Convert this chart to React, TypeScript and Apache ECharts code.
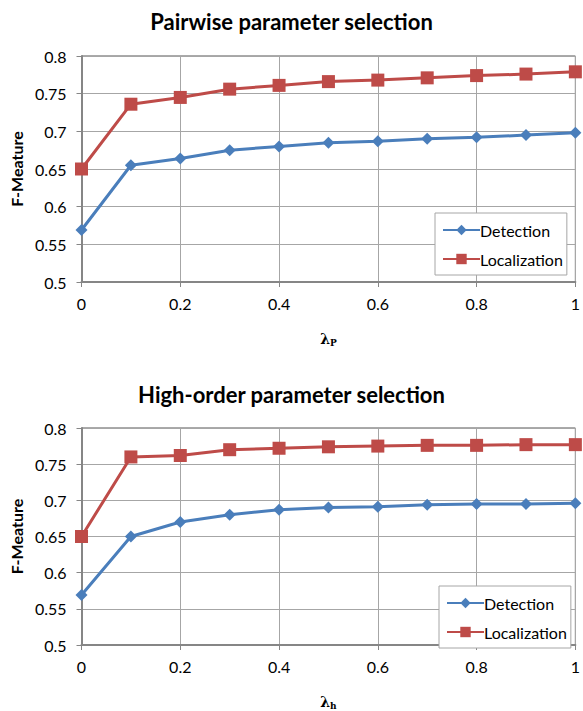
import React, { useEffect, useRef } from "react";
import * as echarts from "echarts";

const lambdaValues = [0, 0.1, 0.2, 0.3, 0.4, 0.5, 0.6, 0.7, 0.8, 0.9, 1];
const pairDetection = [0.569, 0.655, 0.664, 0.675, 0.68, 0.685, 0.687, 0.69, 0.692, 0.695, 0.698];
const pairLocalization = [0.65, 0.736, 0.745, 0.756, 0.761, 0.766, 0.768, 0.771, 0.774, 0.776, 0.779];
const highDetection = [0.569, 0.65, 0.67, 0.68, 0.687, 0.69, 0.691, 0.694, 0.695, 0.695, 0.696];
const highLocalization = [0.65, 0.76, 0.762, 0.77, 0.772, 0.774, 0.775, 0.776, 0.776, 0.777, 0.777];
const titles = ["Pairwise parameter selection", "High-order parameter selection"];
const seriesNames = ["Detection", "Localization"];
const subscripts = ["P", "h"];

const FONT = "Lato, 'Open Sans', sans-serif";
const BLUE = "#4A7EBB";
const RED = "#BE4B48";

export default function App() {
  const ref = useRef<HTMLDivElement>(null);
  useEffect(() => {
    document.body.style.margin = "0";
    const chart = echarts.init(ref.current!, null, { renderer: "svg" });
    const grids = [
      { left: 78, top: 56, width: 500, height: 226 },
      { left: 81, top: 428, width: 499, height: 228 },
    ];
    const mkX = (i: number) => ({
      type: "value",
      gridIndex: i,
      min: 0,
      max: 1,
      interval: 0.2,
      axisLine: { show: true, lineStyle: { color: "#868686", width: 2 } },
      axisTick: { show: true, length: 5, lineStyle: { color: "#868686" } },
      axisLabel: { color: "#000", fontSize: 16, fontFamily: FONT, margin: 13 },
      splitLine: { show: true, lineStyle: { color: "#A6A6A6", width: 1 } },
      name: `{a|λ}{b|${subscripts[i]}}`,
      nameLocation: "middle",
      nameGap: 48,
      nameTextStyle: {
        rich: {
          a: { fontSize: 14, fontWeight: "bold", fontFamily: "'DejaVu Serif', serif", color: "#000" },
          b: { fontSize: 9, fontWeight: "bold", fontFamily: "'DejaVu Serif', serif", color: "#000", verticalAlign: "bottom", padding: [8, 0, 0, 0] },
        },
      },
    });
    const mkY = (i: number) => ({
      type: "value",
      gridIndex: i,
      min: 0.5,
      max: 0.8,
      interval: 0.05,
      axisLine: { show: true, lineStyle: { color: "#868686", width: 2 } },
      axisTick: { show: true, length: 5, lineStyle: { color: "#868686" } },
      axisLabel: { color: "#000", fontSize: 16, fontFamily: FONT, margin: 15 },
      splitLine: { show: true, lineStyle: { color: "#A6A6A6", width: 1 } },
      name: "F-Meature",
      nameLocation: "middle",
      nameGap: 54,
      nameRotate: 90,
      nameTextStyle: { color: "#000", fontSize: 16, fontWeight: "bold", fontFamily: FONT },
    });
    const toPairs = (arr: number[]) => arr.map((v, k) => [lambdaValues[k], v]);
    const mkSeries = (i: number, det: number[], loc: number[]) => [
      {
        type: "line",
        name: seriesNames[0],
        xAxisIndex: i,
        yAxisIndex: i,
        data: toPairs(det),
        symbol: "diamond",
        symbolSize: 12,
        lineStyle: { color: BLUE, width: 3 },
        itemStyle: { color: BLUE },
        z: 3,
      },
      {
        type: "line",
        name: seriesNames[1],
        xAxisIndex: i,
        yAxisIndex: i,
        data: toPairs(loc),
        symbol: "rect",
        symbolSize: 13,
        lineStyle: { color: RED, width: 3 },
        itemStyle: { color: RED },
        z: 3,
      },
    ];
    const mkLegend = (left: number, top: number) => ({
      data: seriesNames,
      orient: "vertical",
      left,
      top,
      padding: [9, 4, 8, 7],
      itemGap: 13,
      itemWidth: 37,
      itemHeight: 13,
      backgroundColor: "#fff",
      borderColor: "#A6A6A6",
      borderWidth: 1,
      borderRadius: 0,
      textStyle: { fontSize: 16, fontFamily: FONT, color: "#000", padding: [0, 0, 0, -5] },
    });
    chart.setOption({
      animation: false,
      backgroundColor: "#fff",
      title: [
        { text: titles[0], left: "center", top: 5, textStyle: { fontSize: 22, fontWeight: "bold", fontFamily: FONT, color: "#000" } },
        { text: titles[1], left: "center", top: 378, textStyle: { fontSize: 22, fontWeight: "bold", fontFamily: FONT, color: "#000" } },
      ],
      grid: grids.map((g) => ({ ...g, show: true, borderColor: "#555", borderWidth: 1, backgroundColor: "transparent" })),
      xAxis: [mkX(0), mkX(1)],
      yAxis: [mkY(0), mkY(1)],
      legend: [mkLegend(435, 213), mkLegend(439, 586)],
      series: [...mkSeries(0, pairDetection, pairLocalization), ...mkSeries(1, highDetection, highLocalization)],
    });
    return () => chart.dispose();
  }, []);
  return <div ref={ref} style={{ width: 583, height: 711 }} />;
}
